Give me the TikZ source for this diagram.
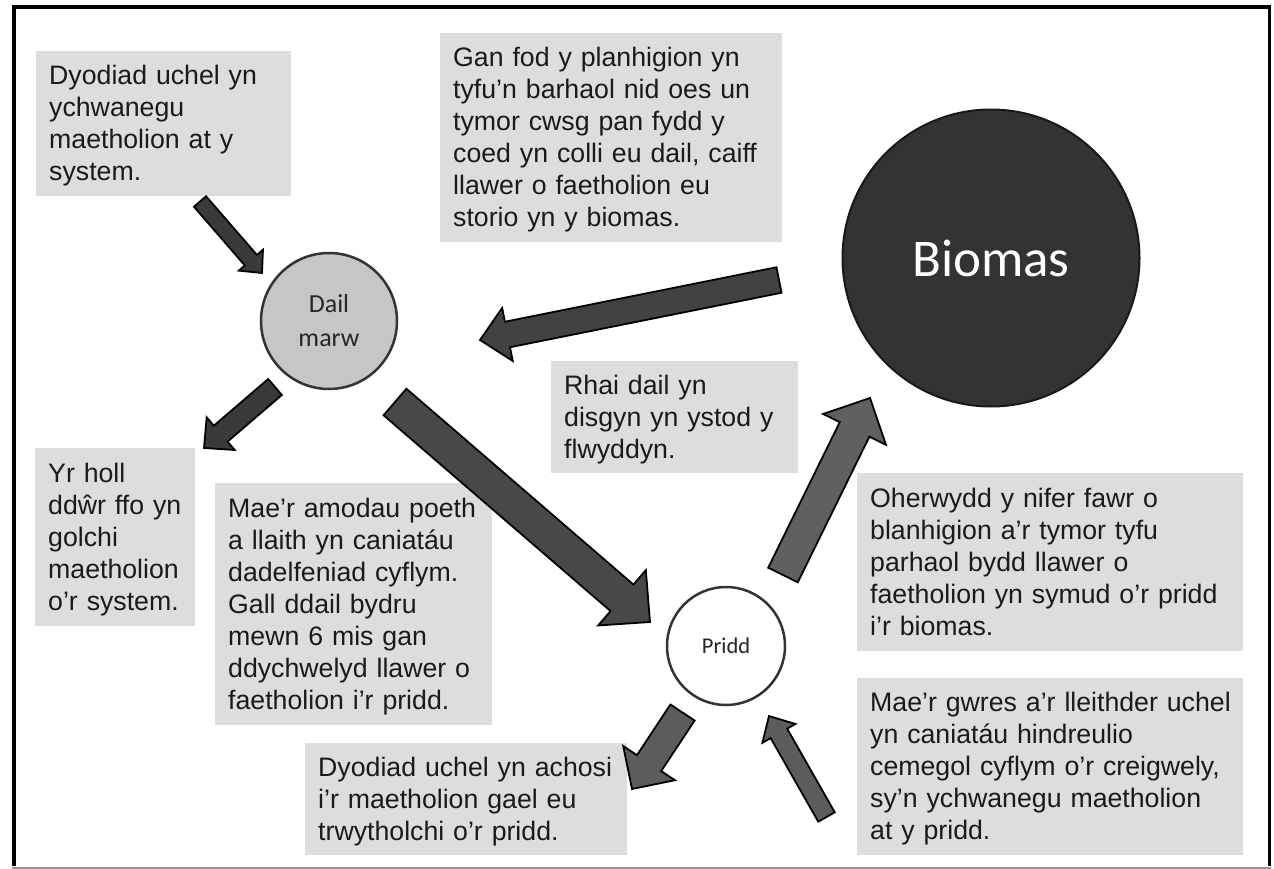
\documentclass[tikz,border=0pt]{standalone}
\usepackage{fontspec}
\setmainfont{Liberation Sans}
\newfontfamily\calib{Carlito}
\usetikzlibrary{calc}
\definecolor{boxgray}{RGB}{221,221,221}
\definecolor{txtcol}{RGB}{26,26,26}
\definecolor{dailfill}{RGB}{198,198,198}
\definecolor{biofill}{RGB}{51,51,51}
\definecolor{arrA}{RGB}{58,58,58}
\definecolor{arrB}{RGB}{66,66,66}
\definecolor{arrC}{RGB}{72,72,72}
\definecolor{arrD}{RGB}{92,92,92}
\definecolor{arrE}{RGB}{96,96,96}
\tikzset{
  txtbox/.style={fill=boxgray, draw=none, anchor=north west, inner xsep=13pt,
    inner ysep=0pt, align=left, text=txtcol,
    font=\fontsize{26.7}{32}\selectfont,
    execute at begin node={\rightskip=-60pt plus 1fil\relax}},
  blockline/.style={draw=black, line width=1.8pt, line join=miter},
  ringnode/.style={circle, line width=2.5pt, inner sep=0pt},
}
\newcommand{\fs}{\rule{0pt}{25pt}}
\newcommand{\ls}{\rule[-7pt]{0pt}{7pt}}
% #1 tail, #2 tip, #3 half shaft width, #4 half head width, #5 head length, #6 fill
\newcommand{\blkarrow}[6]{%
  \coordinate (hb) at ($(#2)!#5!(#1)$);
  \draw[blockline, fill=#6]
    ($(#1)!#3!90:(#2)$) -- ($(hb)!#3!90:(#2)$) -- ($(hb)!#4!90:(#2)$) -- (#2)
    -- ($(hb)!#4!-90:(#2)$) -- ($(hb)!#3!-90:(#2)$) -- ($(#1)!#3!-90:(#2)$) -- cycle;
}
\begin{document}
\begin{tikzpicture}[x=1pt, y=-1pt]
\useasboundingbox (0,0) rectangle (1274,869);
\fill[white] (0,0) rectangle (1274,869);
% frame
\draw[black, line width=3.8pt] (14,866) -- (14,7) -- (1269.5,7) -- (1269.5,866);
\draw[gray!85, line width=2pt] (12,868) -- (1271,868);

% text boxes
\node[txtbox, text width=229pt, minimum height=145pt] (b1) at (36,51)
  {\fs Dyodiad uchel yn\\ychwanegu\\maetholion at y\\system.\ls};
\node[txtbox, text width=316pt, minimum height=209pt] (b2) at (440,33)
  {\fs Gan fod y planhigion yn\\tyfu’n barhaol nid oes un\\tymor cwsg pan fydd y\\coed yn colli eu dail, caiff\\llawer o faetholion eu\\storio yn y biomas.\ls};
\node[txtbox, text width=221pt, minimum height=112pt] (b3) at (551,361)
  {\fs Rhai dail yn\\disgyn yn ystod y\\flwyddyn.\ls};
\node[txtbox, text width=134pt, minimum height=178pt] (b4) at (35,448)
  {\fs Yr holl\\ddŵr ffo yn\\golchi\\maetholion\\o’r system.\ls};
\node[txtbox, text width=251pt, minimum height=242pt] (b5) at (215,483)
  {\fs Mae’r amodau poeth\\a llaith yn caniatáu\\dadelfeniad cyflym.\\Gall ddail bydru\\mewn 6 mis gan\\ddychwelyd llawer o\\faetholion i’r pridd.\ls};
\node[txtbox, text width=296pt, minimum height=112pt] (b6) at (305,743)
  {\fs Dyodiad uchel yn achosi\\i’r maetholion gael eu\\trwytholchi o’r pridd.\ls};
\node[txtbox, text width=360pt, minimum height=178pt] (b7) at (857,473)
  {\fs Oherwydd y nifer fawr o\\blanhigion a’r tymor tyfu\\parhaol bydd llawer o\\faetholion yn symud o’r pridd\\i’r biomas.\ls};
\node[txtbox, text width=360pt, minimum height=177pt] (b8) at (857,678)
  {\fs Mae’r gwres a’r lleithder uchel\\yn caniatáu hindreulio\\cemegol cyflym o’r creigwely,\\sy’n ychwanegu maetholion\\at y pridd.\ls};

% circles
\node[ringnode, fill=dailfill, draw=black!80, minimum size=136pt, align=center,
  font=\calib\fontsize{26}{34}\selectfont, text=black!85] (dail) at (329,321) {Dail\\marw};
\node[ringnode, fill=white, draw=black!80, minimum size=118pt,
  font=\calib\fontsize{22.5}{26}\selectfont, text=black!85] (pridd) at (726,646) {Pridd};
\node[ringnode, fill=biofill, draw=black!90, line width=2pt, minimum size=297pt,
  font=\calib\fontsize{53}{60}\selectfont, text=white] (biomas) at (991,258) {Biomas};

% arrow end points
\coordinate (t1) at (200,201.5);  \coordinate (h1) at (262,273);
\coordinate (t2) at (779,280);    \coordinate (h2) at (480,340);
\coordinate (t3) at (275,387);    \coordinate (h3) at (204,448);
\coordinate (t4) at (395,402);    \coordinate (h4) at (650,622);
\coordinate (t5) at (783,575);    \coordinate (h5) at (870,398);
\coordinate (t6) at (682.5,712.5);\coordinate (h6) at (632,789);
\coordinate (t7) at (826.5,817);  \coordinate (h7) at (769,716);

% block arrows
\blkarrow{t1}{h1}{8pt}{16pt}{17pt}{arrA}
\blkarrow{t2}{h2}{13pt}{27pt}{28pt}{arrB}
\blkarrow{t3}{h3}{10.5pt}{21.5pt}{22pt}{arrA}
\blkarrow{t4}{h4}{17.5pt}{36.5pt}{37pt}{arrC}
\blkarrow{t5}{h5}{16.5pt}{35pt}{35pt}{arrE}
\blkarrow{t6}{h6}{14.5pt}{31pt}{31pt}{arrD}
\blkarrow{t7}{h7}{9.5pt}{19pt}{20pt}{arrD}
\end{tikzpicture}
\end{document}
